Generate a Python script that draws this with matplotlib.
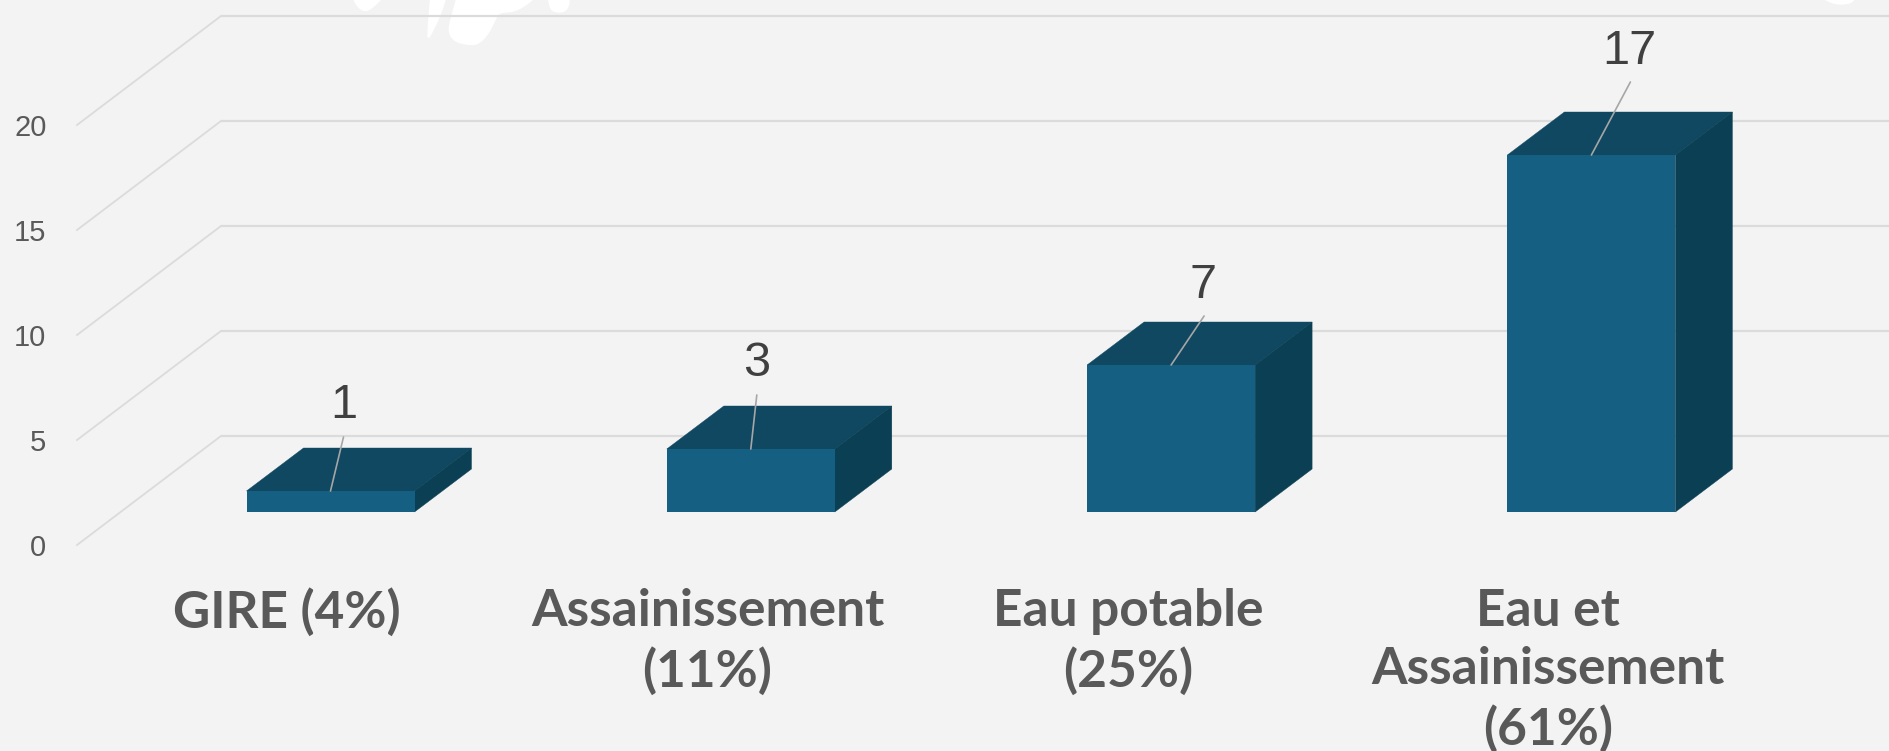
import matplotlib
matplotlib.use("Agg")
import matplotlib.pyplot as plt
from matplotlib.patches import Polygon
from matplotlib.transforms import IdentityTransform

categories = ["GIRE (4%)", "Assainissement\n(11%)", "Eau potable\n(25%)", "Eau et\nAssainissement\n(61%)"]
values = [1, 3, 7, 17]
y_ticks = [0, 5, 10, 15, 20]

W, H = 1890, 751
BG, FRONT, TOP, SIDE = "#F3F3F3", "#156082", "#104862", "#0B3F53"
GRID, LEADER = "#DBDBDB", "#A6A6A6"
CX0 = 330.5                       # pixel centre of the first bar
PX_X, PX_Y = 420.3, 21.0          # pixels per category / per value unit
BAR_W = 168 / PX_X
DEPTH_X, DEPTH_Y = 57 / PX_X, 43 / PX_Y
FLOOR = 33 / PX_Y                 # front floor edge below the bar base
WALL = 76 / PX_Y                  # back wall zero above the bar base
SIDE_X = 144 / PX_X

fig = plt.figure(figsize=(W / 100, H / 100), dpi=100, facecolor=BG)
L, R, T, B = 77, 1890, 10, 545
ax = fig.add_axes([L / W, 1 - B / H, (R - L) / W, (B - T) / H], facecolor="none")
ax.set_xlim((L - CX0) / PX_X, (R - CX0) / PX_X)
ax.set_ylim(-FLOOR, (512 - T) / PX_Y)
for s in ax.spines.values():
    s.set_visible(False)


def chaikin(pts, n=3):
    for _ in range(n):
        out = [pts[0]]
        for a, b in zip(pts[:-1], pts[1:]):
            out.append((0.75 * a[0] + 0.25 * b[0], 0.75 * a[1] + 0.25 * b[1]))
            out.append((0.25 * a[0] + 0.75 * b[0], 0.25 * a[1] + 0.75 * b[1]))
        out.append(pts[-1])
        pts = out
    return pts


# white background shapes cropped by the top edge (pixel space, y downwards)
def blob(pts, smooth=3):
    verts = [(x, H - y) for x, y in chaikin(pts, smooth)]
    fig.add_artist(Polygon(verts, closed=True, fc="white", ec="none",
                           transform=IdentityTransform(), zorder=0))


blob([(353, -1), (357, 7), (364, 12), (372, 9), (382, -1)])
blob([(430, -1), (428, 20), (427, 42), (435, 28), (442, 12), (446, -1)], smooth=1)
blob([(456, -1), (452, 13), (448, 28), (450, 37), (457, 43), (473, 46), (482, 42), (490, 32),
      (497, 17), (500, 13), (515, 12), (527, 5), (534, -1)])
blob([(548, -1), (550, 10), (557, 13), (565, 12), (569, 7), (570, -1)])
blob([(1823, -1), (1833, 4), (1843, 5), (1852, 3), (1855, -1)])

x0, x1 = ax.get_xlim()
back = x0 + SIDE_X
for v in y_ticks:
    ax.plot([back, x1], [v + WALL] * 2, color=GRID, lw=1.6, clip_on=False, zorder=1, solid_capstyle="butt")
    ax.plot([x0, back], [v - FLOOR, v + WALL], color=GRID, lw=1.3, clip_on=False, zorder=1)

ax.set_yticks([v - FLOOR for v in y_ticks], [str(v) for v in y_ticks],
              fontfamily="Liberation Sans", fontsize=21, color="#595959")
ax.tick_params(axis="y", length=0, pad=22)

positions = list(range(len(values)))
ax.bar(positions, values, width=BAR_W, color=FRONT, zorder=3)
for i, v in zip(positions, values):
    xl, xr = i - BAR_W / 2, i + BAR_W / 2
    ax.add_patch(Polygon([(xl, v), (xr, v), (xr + DEPTH_X, v + DEPTH_Y), (xl + DEPTH_X, v + DEPTH_Y)],
                         fc=TOP, ec=TOP, lw=0.3, zorder=2))
    ax.add_patch(Polygon([(xr, 0), (xr + DEPTH_X, DEPTH_Y), (xr + DEPTH_X, v + DEPTH_Y), (xr, v)],
                         fc=SIDE, ec=SIDE, lw=0.3, zorder=2))

# value labels with leader lines (offsets in pixels from the bar's top centre)
leader_ends = [(13, 54), (6, 54), (33, 49), (39, 73)]
label_pos = [(13, 85), (6, 85), (32, 80), (38, 104)]
for i, v, le, lp in zip(positions, values, leader_ends, label_pos):
    ax.annotate("", xy=(i, v), xytext=le, textcoords="offset pixels",
                arrowprops=dict(arrowstyle="-", color=LEADER, lw=1.2, shrinkA=0, shrinkB=0), zorder=4)
    ax.annotate(str(v), xy=(i, v), xytext=lp, textcoords="offset pixels", ha="center", va="center",
                fontfamily="Liberation Sans", fontsize=35, color="#404040", zorder=5)

ax.set_xticks([p - 0.103 for p in positions], categories, fontfamily="Lato", fontweight="bold",
              fontsize=37, color="#595959", linespacing=1.3)
ax.tick_params(axis="x", length=0, pad=31)

fig.savefig("out.png", dpi=100, facecolor=BG)
